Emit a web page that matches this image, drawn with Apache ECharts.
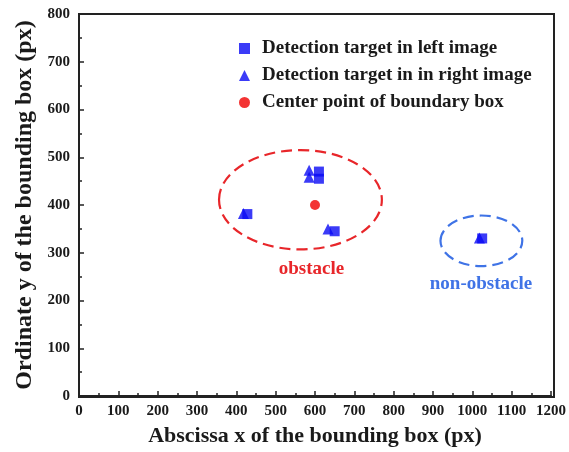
<!DOCTYPE html>
<html><head><meta charset="utf-8">
<script src="https://cdn.jsdelivr.net/npm/echarts@6/dist/echarts.min.js"></script>
<style>html,body{margin:0;padding:0;background:#fff}#c{width:569px;height:452px}</style>
</head><body><div id="c"></div>
<script>
// Data
const leftX  = [610, 610, 428, 650, 1025];
const leftY  = [470, 455, 381, 345, 330];
const rightX = [585, 585, 418, 633, 1018];
const rightY = [473, 458, 382, 350, 331];
const centerX = [600];
const centerY = [400];
// Region ellipses: centre x, centre y, radius x, radius y, label, label x, label y
const regionNames = ['obstacle', 'non-obstacle'];
const regionCX = [563, 1023];
const regionCY = [411, 325];
const regionRX = [207, 104];
const regionRY = [104, 53];
const regionLabelX = [591, 1022];
const regionLabelY = [266, 235];
const regionColors = ['#e8262a', '#3f73e6'];
const xTicks = [0,100,200,300,400,500,600,700,800,900,1000,1100,1200];
const yTicks = [0,100,200,300,400,500,600,700,800];

const zip = (a, b) => a.map((v, i) => [v, b[i]]);
const font = 'Liberation Serif';
const chart = echarts.init(document.getElementById('c'));
chart.setOption({
  animation: false,
  grid: {left: 79, top: 14, right: 15, bottom: 55, show: false},
  xAxis: {
    type: 'value', min: 0, max: 1200, interval: 100,
    name: 'Abscissa x of the bounding box (px)', nameLocation: 'middle', nameGap: 29,
    nameTextStyle: {fontFamily: font, fontWeight: 'bold', fontSize: 22, color: '#1a1a1a'},
    axisLine: {show: true, onZero: false, lineStyle: {color: '#222', width: 2}},
    axisTick: {show: true, inside: true, length: 5, lineStyle: {color: '#222', width: 1.5}},
    minorTick: {show: true, splitNumber: 2, length: 3, lineStyle: {color: '#222', width: 1.5}},
    axisLabel: {fontFamily: font, fontWeight: 'bold', fontSize: 15, color: '#1a1a1a', margin: 8,
      formatter: v => xTicks.includes(v) ? String(v) : ''},
    splitLine: {show: false}
  },
  yAxis: {
    type: 'value', min: 0, max: 800, interval: 100,
    name: 'Ordinate y of the bounding box (px)', nameLocation: 'middle', nameGap: 42,
    nameTextStyle: {fontFamily: font, fontWeight: 'bold', fontSize: 24, color: '#1a1a1a'},
    axisLine: {show: true, onZero: false, lineStyle: {color: '#222', width: 2}},
    axisTick: {show: true, inside: true, length: 5, lineStyle: {color: '#222', width: 1.5}},
    minorTick: {show: true, splitNumber: 2, length: 3, lineStyle: {color: '#222', width: 1.5}},
    axisLabel: {fontFamily: font, fontWeight: 'bold', fontSize: 15, color: '#1a1a1a', margin: 9,
      formatter: v => yTicks.includes(v) ? String(v) : ''},
    splitLine: {show: false}
  },
  graphic: [{
    type: 'rect', shape: {x: 79, y: 14, width: 475, height: 383}, silent: true,
    style: {fill: 'none', stroke: '#222', lineWidth: 2}, z: 10
  }],
  legend: {
    orient: 'vertical', left: 234, top: 34, itemGap: 8, itemWidth: 11, itemHeight: 11,
    textStyle: {fontFamily: font, fontWeight: 'bold', fontSize: 19, color: '#1a1a1a', padding: [0, 0, 0, 7]},
    data: [
      {name: 'Detection target in left image', icon: 'rect'},
      {name: 'Detection target in in right image', icon: 'triangle'},
      {name: 'Center point of boundary box', icon: 'circle'}
    ]
  },
  series: [
    {
      name: 'Detection target in left image', type: 'scatter', symbol: 'rect', symbolSize: 10,
      itemStyle: {color: '#0a0af5'}, data: zip(leftX, leftY), z: 3
    },
    {
      name: 'Detection target in in right image', type: 'scatter', symbol: 'triangle', symbolSize: 11,
      itemStyle: {color: '#0a0af5'}, data: zip(rightX, rightY), z: 4
    },
    {
      name: 'Center point of boundary box', type: 'scatter', symbol: 'circle', symbolSize: 10,
      itemStyle: {color: '#f00000'}, data: zip(centerX, centerY), z: 4
    },
    {
      type: 'custom', coordinateSystem: 'cartesian2d', silent: true, z: 2,
      data: regionNames.map((n, i) => [regionCX[i], regionCY[i], regionRX[i], regionRY[i], regionLabelX[i], regionLabelY[i], i]),
      renderItem: (params, api) => {
        const i = api.value(6);
        const c = api.coord([api.value(0), api.value(1)]);
        const s = api.size([api.value(2), api.value(3)]);
        const t = api.coord([api.value(4), api.value(5)]);
        const col = regionColors[i];
        return {
          type: 'group',
          children: [
            {type: 'ellipse', shape: {cx: c[0], cy: c[1], rx: s[0], ry: s[1]},
              style: {fill: 'none', stroke: col, lineWidth: 2.2, lineDash: [11, 6]}},
            {type: 'text', style: {text: regionNames[i], x: t[0], y: t[1], align: 'center', verticalAlign: 'middle',
              font: 'bold 19px "Liberation Serif"', fill: col}}
          ]
        };
      }
    }
  ]
});
</script></body></html>
